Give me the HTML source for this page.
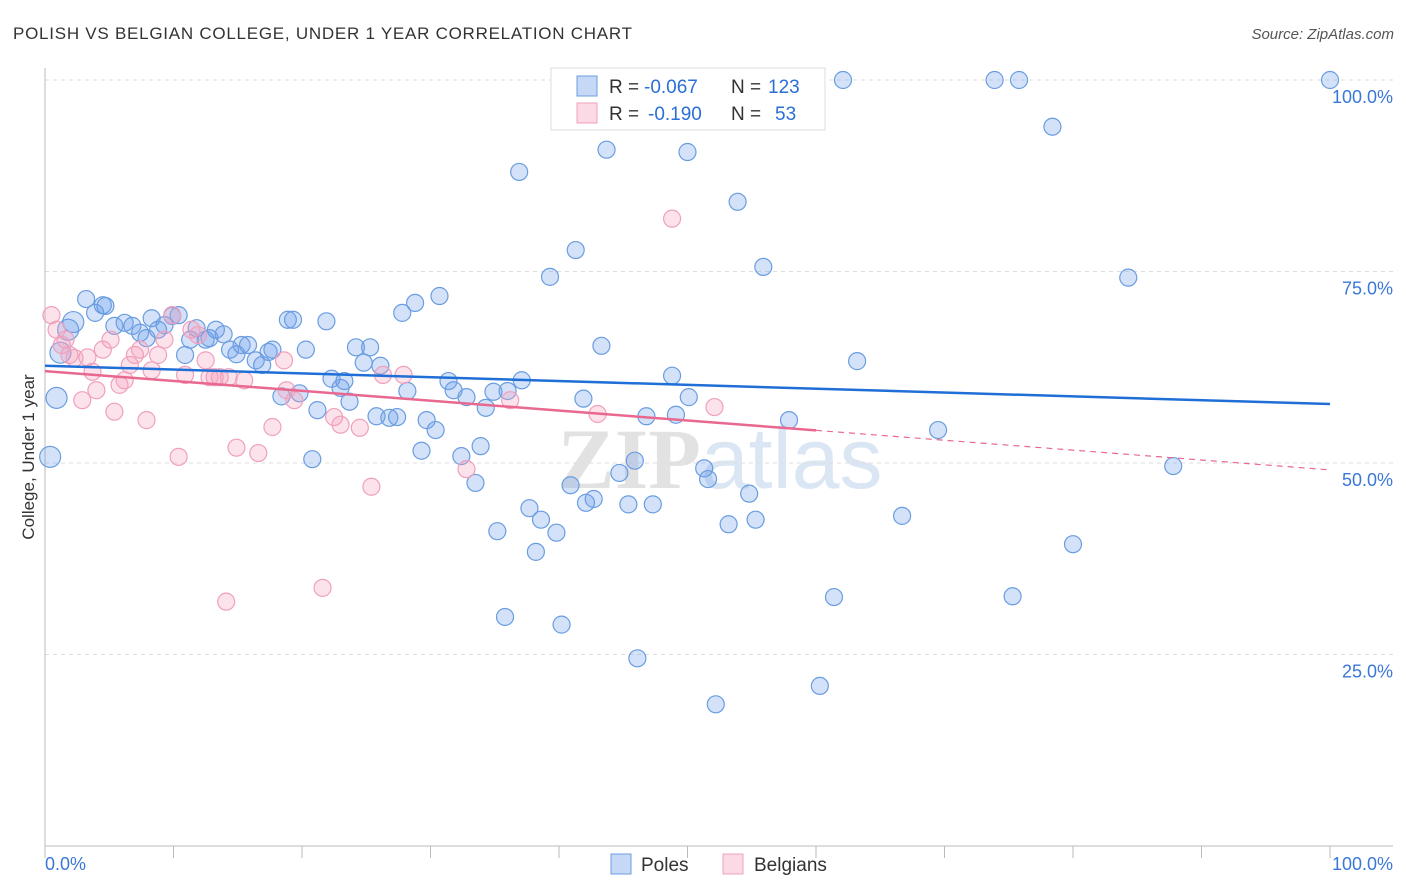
<!DOCTYPE html>
<html><head><meta charset="utf-8"><style>
body{margin:0;background:#fff;font-family:"Liberation Sans",sans-serif;}
svg{display:block}
</style></head><body>
<svg id="chart" width="1406" height="892">
<text x="13" y="39" font-size="17" fill="#333" textLength="619">POLISH VS BELGIAN COLLEGE, UNDER 1 YEAR CORRELATION CHART</text>
<text x="1394" y="39" font-size="15" fill="#555" text-anchor="end" font-style="italic">Source: ZipAtlas.com</text>
<text x="720" y="488" font-size="86" fill="#e4e8ee" text-anchor="middle" font-weight="bold"><tspan fill="#e2e2e2" font-family="Liberation Serif">ZIP</tspan><tspan fill="#dbe6f4" font-weight="normal">atlas</tspan></text>
<g id="grid"></g>
<g id="axes"></g>
<g id="marks"></g>
<text transform="translate(34,457) rotate(-90)" font-size="17" fill="#333" text-anchor="middle">College, Under 1 year</text>
<g>
<rect x="551" y="68" width="274" height="62" fill="#fff" stroke="#ddd"/>
<rect x="577" y="76" width="20" height="20" fill="rgba(110,160,235,0.4)" stroke="#6a9de0"/>
<text x="609" y="93" font-size="19" fill="#333">R =</text>
<text x="644" y="93" font-size="19" fill="#2a6fd6">-0.067</text>
<text x="731" y="93" font-size="19" fill="#333">N =</text>
<text x="768" y="93" font-size="19" fill="#2a6fd6">123</text>
<rect x="577" y="103" width="20" height="20" fill="rgba(245,160,190,0.4)" stroke="#f0a0bc"/>
<text x="609" y="120" font-size="19" fill="#333">R =</text>
<text x="648" y="120" font-size="19" fill="#2a6fd6">-0.190</text>
<text x="731" y="120" font-size="19" fill="#333">N =</text>
<text x="775" y="120" font-size="19" fill="#2a6fd6">53</text>
</g>
<g>
<rect x="611" y="854" width="20" height="20" fill="rgba(110,160,235,0.4)" stroke="#6a9de0"/>
<text x="641" y="871" font-size="19" fill="#333">Poles</text>
<rect x="723" y="854" width="20" height="20" fill="rgba(245,160,190,0.4)" stroke="#f0a0bc"/>
<text x="754" y="871" font-size="19" fill="#333">Belgians</text>
</g>
</svg>
<script>
const yTicks=[25,50,75,100];
const yTickLabels=["25.0%","50.0%","75.0%","100.0%"];
const xTicks=[0,10,20,30,40,50,60,70,80,90,100];
const polesX=[0.9,0.4,1.2,1.8,2.2,3.2,3.9,4.5,4.7,5.4,6.2,6.8,7.4,7.9,8.3,8.8,9.3,9.9,10.4,10.9,11.3,11.8,12.5,12.8,13.3,13.9,14.4,14.9,15.3,15.8,16.4,16.9,17.4,17.7,18.4,18.9,19.3,19.8,20.3,20.8,21.2,21.9,22.3,23.0,23.3,23.7,24.2,24.8,25.3,25.8,26.1,26.8,27.4,27.8,28.2,28.8,29.3,29.7,30.4,30.7,31.4,31.8,32.4,32.8,33.5,33.9,34.3,34.9,35.2,35.8,36.0,36.9,37.1,37.7,38.2,38.6,39.3,39.8,40.2,40.9,41.3,41.9,42.1,42.7,43.3,43.7,44.7,45.4,45.9,46.1,46.8,47.3,48.8,49.1,50.0,50.1,51.3,51.6,52.2,53.2,53.9,54.8,55.3,55.9,57.9,60.3,61.4,62.1,63.2,66.7,69.5,73.9,75.3,75.8,78.4,80.0,84.3,87.8,100,47.9,54.4];
const polesY=[58.5,50.8,64.4,67.4,68.4,71.4,69.6,70.6,70.5,67.9,68.3,67.9,67.0,66.3,68.9,67.4,68.0,69.2,69.3,64.1,66.1,67.6,66.1,66.3,67.4,66.8,64.8,64.2,65.4,65.4,63.4,62.8,64.5,64.8,58.7,68.7,68.7,59.1,64.8,50.5,56.9,68.5,61.0,59.8,60.7,58.0,65.1,63.1,65.1,56.1,62.7,55.9,56.0,69.6,59.4,70.9,51.6,55.6,54.3,71.8,60.7,59.5,50.9,58.6,47.4,52.2,57.2,59.3,41.1,29.9,59.4,88.0,60.8,44.1,38.4,42.6,74.3,40.9,28.9,47.1,77.8,58.4,44.8,45.3,65.3,90.9,48.7,44.6,50.3,24.5,56.1,44.6,61.4,56.3,90.6,58.6,49.3,47.9,18.5,42.0,84.1,46.0,42.6,75.6,55.6,20.9,32.5,100,63.3,43.1,54.3,100,32.6,100,93.9,39.4,74.2,49.6,100,100,100];
const belgX=[0.5,0.9,1.3,1.6,1.9,2.3,2.9,3.3,3.7,4.0,4.5,5.1,5.4,5.8,6.2,6.6,7.0,7.4,7.9,8.3,8.8,9.3,9.9,10.4,10.9,11.4,11.9,12.5,12.8,13.2,13.6,14.1,14.3,14.9,15.5,16.6,17.7,18.6,18.8,19.4,21.6,22.5,23.0,24.5,25.4,26.3,27.9,32.8,36.2,43.0,48.8,52.1];
const belgY=[69.3,67.4,65.4,66.1,64.1,63.7,58.2,63.8,61.9,59.5,64.8,66.1,56.7,60.2,60.8,62.8,64.1,64.8,55.6,62.1,64.1,66.1,69.3,50.8,61.5,67.4,66.7,63.4,61.2,61.2,61.2,31.9,61.2,52.0,60.8,51.3,54.7,63.4,59.5,58.2,33.7,56.0,55.0,54.6,46.9,61.5,61.5,49.2,58.2,56.4,81.9,57.3];
const polesTrend=[62.7,57.7];
const belgTrend=[62.0,49.1];
const belgSolidEnd=60;

const NS="http://www.w3.org/2000/svg";
const X0=45,X1=1330,Y0=846,Y100=80;
const sx=v=>X0+(X1-X0)*v/100;
const sy=v=>Y0-(Y0-Y100)*v/100;
function mk(tag,attrs,parent){const e=document.createElementNS(NS,tag);for(const k in attrs)e.setAttribute(k,attrs[k]);parent.appendChild(e);return e;}
const grid=document.getElementById('grid'),axes=document.getElementById('axes'),marks=document.getElementById('marks');
yTicks.forEach((t,i)=>{
  const l=mk('line',{x1:X0,x2:1393,y1:sy(t),y2:sy(t),stroke:'#ddd','stroke-dasharray':'4,4'},grid);
  
  
  const tx=mk('text',{x:1393,y:sy(t)+23,'font-size':18,fill:'#3a78d8','text-anchor':'end'},axes);
  tx.textContent=yTickLabels[i];
  
  
});
let a=mk('line',{x1:X0,x2:X0,y1:68,y2:Y0,stroke:'#bbb'},axes);


a=mk('line',{x1:X0,x2:1393,y1:Y0,y2:Y0,stroke:'#bbb'},axes);


xTicks.forEach(t=>{
  const l=mk('line',{x1:sx(t),x2:sx(t),y1:Y0,y2:Y0+12,stroke:'#bbb'},axes);
  
  
});
let t1=mk('text',{x:45,y:870,'font-size':18,fill:'#3a78d8'},axes);t1.textContent='0.0%';


let t2=mk('text',{x:1393,y:870,'font-size':18,fill:'#3a78d8','text-anchor':'end'},axes);t2.textContent='100.0%';



function dots(xs,ys,fill,stroke,name,bigCount){
  xs.forEach((x,i)=>{
    const big=i<bigCount;
    const c=mk('circle',{cx:sx(x),cy:sy(ys[i]),r:big?10.5:8.5,fill:fill,stroke:stroke,'stroke-width':1.2},marks);
    
    
  });
}
dots(polesX,polesY,'rgba(110,160,235,0.3)','#6a9de0','poles-point',5);
dots(belgX,belgY,'rgba(245,160,190,0.3)','#f0a0bc','belgians-point',0);
let l=mk('line',{x1:sx(0),y1:sy(polesTrend[0]),x2:sx(100),y2:sy(polesTrend[1]),stroke:'#1f6fd6','stroke-width':2.5},marks);


const bAt=x=>belgTrend[0]+(belgTrend[1]-belgTrend[0])*x/100;
l=mk('line',{x1:sx(0),y1:sy(bAt(0)),x2:sx(belgSolidEnd),y2:sy(bAt(belgSolidEnd)),stroke:'#e8688f','stroke-width':2.5},marks);


l=mk('line',{x1:sx(belgSolidEnd),y1:sy(bAt(belgSolidEnd)),x2:sx(100),y2:sy(bAt(100)),stroke:'#e8688f','stroke-width':1.2,'stroke-dasharray':'6,5'},marks);


</script>
</body></html>
